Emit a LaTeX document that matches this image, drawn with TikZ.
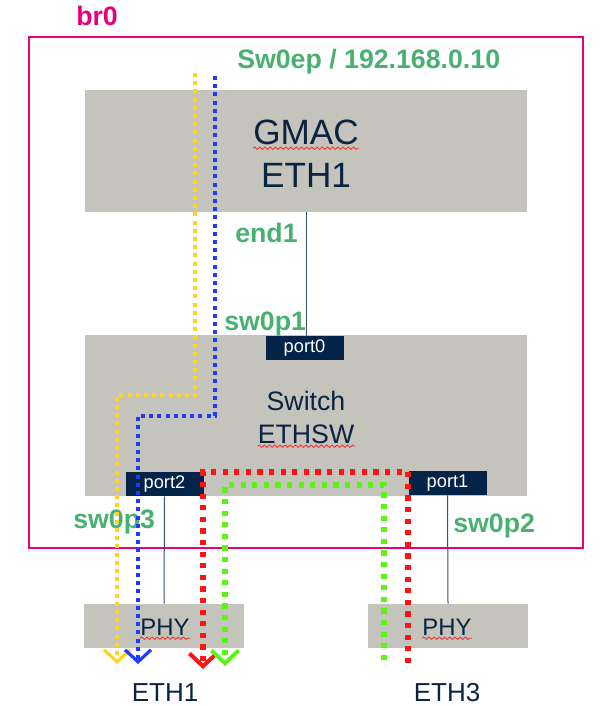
\documentclass[tikz,border=0pt]{standalone}
\usepackage{fontspec}
\setmainfont{Liberation Sans}
\usetikzlibrary{positioning, arrows.meta, decorations.pathmorphing}

\definecolor{brmagenta}{RGB}{230,0,126}
\definecolor{labgreen}{RGB}{72,176,112}
\definecolor{blockgray}{RGB}{197,196,188}
\definecolor{portnavy}{RGB}{3,35,72}
\definecolor{textnavy}{RGB}{10,35,65}
\definecolor{dotyellow}{RGB}{255,211,32}
\definecolor{dotblue}{RGB}{30,60,255}
\definecolor{dotred}{RGB}{250,20,20}
\definecolor{dotgreen}{RGB}{90,245,20}

\begin{document}
\begin{tikzpicture}[
    x=0.25mm, y=-0.25mm,
    block/.style={fill=blockgray, draw=none, inner sep=0pt},
    port/.style={
        fill=portnavy, draw=none, text=white, inner sep=0pt,
        minimum width=19.5mm, minimum height=6mm,
        font=\fontsize{13}{15}\selectfont
    },
    blocktext/.style={inner sep=0pt, text=textnavy},
    label/.style={inner sep=0pt, text=labgreen, font=\bfseries\fontsize{19}{22}\selectfont},
    wire/.style={draw=portnavy!80, line width=0.25mm},
    squiggle/.style={draw=red!85, line width=0.2mm, decorate,
        decoration={snake, amplitude=0.3mm, segment length=1.3mm}},
    thinpath/.style={line width=0.85mm, dash pattern=on 1mm off 1.05mm,
        -{Straight Barb[length=3mm, width=6.5mm, line width=0.8mm 0]}},
    thickpath/.style={line width=1.4mm, dash pattern=on 1.3mm off 1.6mm,
        -{Straight Barb[length=3.2mm, width=6.8mm, line width=1mm 0]}}
]
\useasboundingbox (0,0) rectangle (605,706);

% --- Bridge ---
\draw[brmagenta, line width=0.5mm] (29,37) rectangle (583,548);
\node[inner sep=0pt, text=brmagenta, font=\bfseries\fontsize{19}{22}\selectfont, anchor=base west] (br) at (76,26) {br0};
\node[label, anchor=base west] (ep) at (237,69) {Sw0ep / 192.168.0.10};

% --- GMAC ---
\node[block, minimum width=110.5mm, minimum height=30.5mm] (gmac) at (306,151) {};
\node[blocktext, font=\fontsize{25}{30}\selectfont, anchor=base] (gmacA) at (306,145) {GMAC};
\node[blocktext, font=\fontsize{25}{30}\selectfont, anchor=base] (gmacB) at (306,188) {ETH1};

% --- Switch ---
\node[block, minimum width=110.5mm, minimum height=40.25mm] (sw) at (306,415.5) {};
\node[blocktext, font=\fontsize{19}{22}\selectfont, anchor=base] (swA) at (306,410) {Switch};
\node[blocktext, font=\fontsize{19}{22}\selectfont, anchor=base] (swB) at (306,443) {ETHSW};

% --- Ports ---
\node[port] (port0) at (304.5,348) {port0};
\node[port] (port2) at (164.5,484) {port2};
\node[port] (port1) at (447.5,483) {port1};

% --- PHY ---
\node[block, minimum width=40mm, minimum height=11mm] (phyL) at (164,626) {};
\node[block, minimum width=40mm, minimum height=11mm] (phyR) at (448,626) {};
\node[blocktext, font=\fontsize{17}{20}\selectfont, anchor=base] (phyLt) at (165,635) {PHY};
\node[blocktext, font=\fontsize{17}{20}\selectfont, anchor=base] (phyRt) at (447,635) {PHY};
\node[blocktext, font=\fontsize{18.5}{22}\selectfont, anchor=base] (eth1) at (165,701) {ETH1};
\node[blocktext, font=\fontsize{18.5}{22}\selectfont, anchor=base] (eth3) at (447,701) {ETH3};

% --- Labels ---
\node[label, anchor=base west] (end1) at (235,242) {end1};
\node[label, anchor=base west] (sw0p1) at (224,330) {sw0p1};
\node[label, anchor=base west] (sw0p3) at (73,528) {sw0p3};
\node[label, anchor=base west] (sw0p2) at (453,532) {sw0p2};

% --- Spell marks ---
\foreach \t in {gmacA, swB, phyLt, phyRt}
    \draw[squiggle] ([yshift=-0.8mm]\t.base west) -- ([yshift=-0.8mm]\t.base east);

% --- Links ---
\draw[wire] (gmac.south) -- (gmac.south |- port0.north);
\draw[wire] (port2.south) -- (phyL.north);
\draw[wire] (port1.south) -- (phyR.north);

% --- Paths ---
\coordinate (ytop) at (195,73);
\coordinate (yend) at (117,664);
\coordinate (btop) at (215,76);
\coordinate (bend) at (138,664);
\coordinate (rtail) at (408,663);
\coordinate (rend) at (203,669);
\coordinate (gtail) at (384,660);
\coordinate (gend) at (225,666);

\draw[thinpath, dotyellow] (ytop) -- ++(0,322) -| (yend);
\draw[thinpath, dotblue] (btop) -- ++(0,340) -| (bend);
\draw[thickpath, dotred] (rtail) -- ++(0,-191) -| (rend);
\draw[thickpath, dotgreen] (gtail) -- ++(0,-175) -| (gend);

\end{tikzpicture}
\end{document}
